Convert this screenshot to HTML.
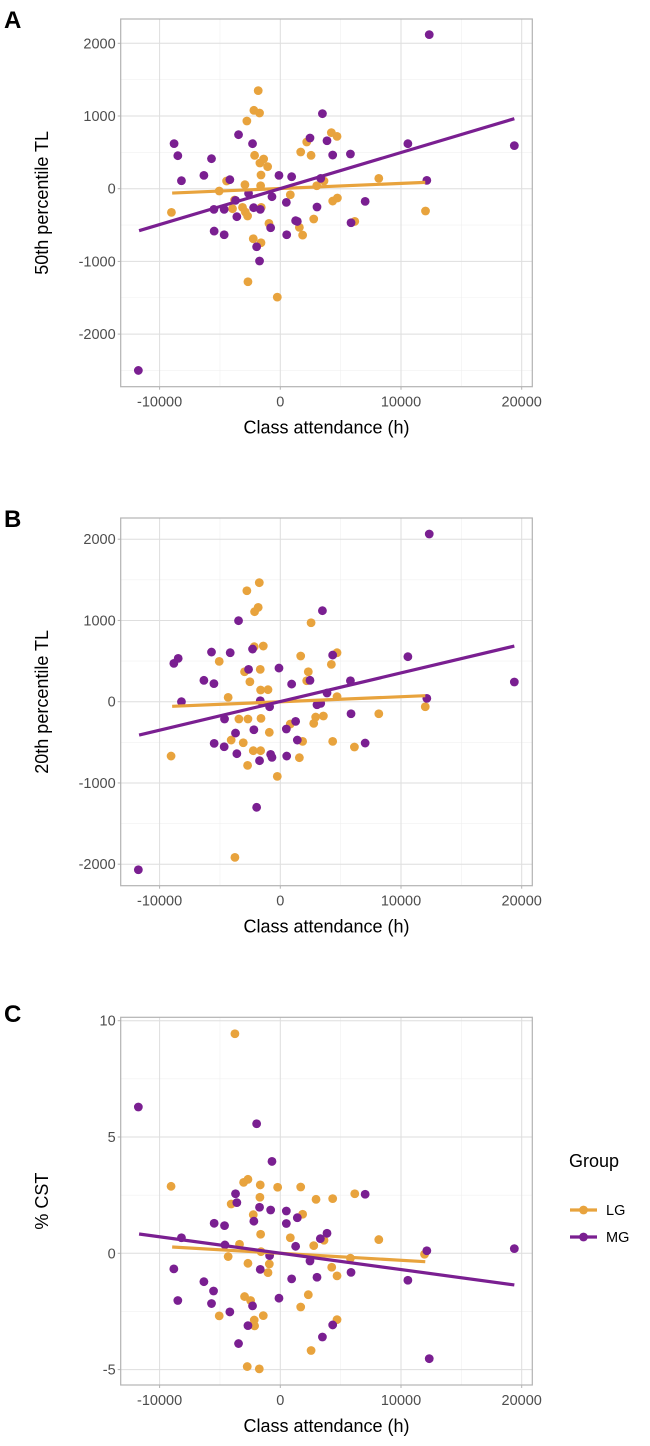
<!DOCTYPE html>
<html><head><meta charset="utf-8"><style>
body{margin:0;background:#fff;font-family:"Liberation Sans",Arial,sans-serif}
svg{display:block}
</style></head><body>
<svg id="chart" width="650" height="1446" viewBox="0 0 650 1446" xmlns="http://www.w3.org/2000/svg" font-family="Liberation Sans, Arial, sans-serif"></svg>
<script>
const xTicks=[-10000,0,10000,20000];
const aYTicks=[-2000,-1000,0,1000,2000];
const bYTicks=[-2000,-1000,0,1000,2000];
const cYTicks=[-5,0,5,10];
// Panel A (50th percentile TL)
const aMGx=[-11760,-8800,-8490,-8190,-6330,-5700,-5500,-5480,-4650,-4650,-4180,-3710,-3600,-3460,-2630,-2300,-2210,-1960,-1720,-1660,-800,-690,-110,500,530,940,1270,1410,2460,3040,3350,3490,3870,4340,5810,5860,7030,10570,12140,12340,19390];
const aMGy=[-2500,620,454,110,183,413,-284,-583,-284,-633,124,-161,-385,743,-64,619,-261,-798,-995,-284,-537,-110,183,-188,-633,165,-440,-450,697,-252,142,1032,660,463,477,-468,-174,619,115,2119,592];
const aLGx=[-9020,-5060,-4450,-3960,-3790,-3130,-2930,-2900,-2770,-2710,-2680,-2240,-2190,-2130,-1830,-1720,-1690,-1630,-1600,-1600,-1580,-1380,-1050,-940,-250,830,1580,1690,1850,2190,2550,2770,3020,3620,4230,4340,4700,4730,6170,8160,12030];
const aLGy=[-326,-32,106,-275,-156,-257,55,-321,931,-376,-1280,-688,1078,459,1349,1041,353,41,188,-743,-257,408,303,-477,-1491,-83,-532,505,-638,642,459,-417,41,106,771,-170,720,-128,-450,142,-307];
const aMGfit=[[-11700,-578],[19390,963]];
const aLGfit=[[-8960,-60],[12010,87]];
// Panel B (20th percentile TL)
const bMGx=[-11760,-8820,-8460,-8190,-6330,-5700,-5500,-5480,-4620,-4650,-4150,-3710,-3600,-3460,-2630,-2300,-2190,-1960,-1720,-1660,-800,-690,-885,-110,500,530,940,1270,1410,2460,3040,3350,3490,3870,4340,5810,5860,7030,10570,12140,12340,19390];
const bMGy=[-2068,472,533,0,263,611,222,-513,-213,-554,603,-386,-640,997,398,648,-345,-1300,-726,12,-648,-685,-62,414,-336,-669,217,-242,-472,263,-37,-21,1120,107,574,258,-148,-509,554,41,2064,242];
const bLGx=[-9050,-5060,-4320,-4070,-3760,-3430,-3070,-2960,-2770,-2710,-2680,-2520,-2240,-2160,-2130,-1830,-1740,-1660,-1630,-1630,-1600,-1410,-1020,-910,-250,830,1580,1690,1850,2190,2320,2550,2770,2930,3570,4230,4340,4700,4700,6140,8160,12010];
const bLGy=[-669,496,53,-472,-1916,-213,-505,369,1366,-784,-213,246,-603,677,1108,1161,1465,398,144,-603,-205,685,148,-377,-919,-275,-689,562,-488,258,369,972,-267,-189,-176,459,-488,603,62,-558,-148,-62];
const bMGfit=[[-11700,-410],[19390,685]];
const bLGfit=[[-8960,-57],[12010,74]];
// Panel C (% CST)
const cMGx=[-11760,-8820,-8490,-8190,-6330,-5530,-5480,-5700,-4620,-4590,-4180,-3710,-3600,-3460,-2680,-2300,-2190,-1960,-1720,-1660,-885,-800,-690,-110,500,500,940,1270,1410,2460,3040,3320,3490,3870,4340,5860,7030,10570,12140,12340,19390];
const cMGy=[6.29,-0.67,-2.03,0.67,-1.22,-1.62,1.29,-2.16,1.19,0.36,-2.52,2.56,2.18,-3.88,-3.11,-2.26,1.38,5.57,1.98,-0.69,-0.10,1.86,3.95,-1.93,1.82,1.28,-1.10,0.30,1.53,-0.33,-1.03,0.63,-3.60,0.86,-3.08,-0.82,2.54,-1.16,0.11,-4.53,0.20];
const cLGx=[-9050,-5060,-4320,-4070,-3760,-3380,-3040,-2960,-2740,-2680,-2680,-2460,-2240,-2160,-2130,-1660,-1690,-1630,-1600,-1740,-1410,-1020,-910,-220,830,1690,1690,1850,2320,2550,2770,2960,3620,4260,4340,4700,4700,5810,6170,8160,11950];
const cLGy=[2.88,-2.69,-0.14,2.12,9.44,0.39,3.05,-1.86,-4.87,3.18,-0.43,-2.03,1.66,-2.87,-3.12,2.94,2.41,0.82,0.07,-4.97,-2.68,-0.83,-0.46,2.84,0.67,2.85,-2.31,1.68,-1.78,-4.18,0.33,2.32,0.56,-0.60,2.35,-0.97,-2.85,-0.21,2.56,0.59,-0.04];
const cMGfit=[[-11700,0.83],[19390,-1.36]];
const cLGfit=[[-8960,0.27],[12010,-0.36]];

const ORANGE="#E8A33D", PURPLE="#7A1F91";
const svg=document.getElementById('chart');
const NS="http://www.w3.org/2000/svg";
function mk(tag,attrs,parent){const e=document.createElementNS(NS,tag);for(const k in attrs)e.setAttribute(k,attrs[k]);(parent||svg).appendChild(e);return e;}

function panel(cfg){
  const g=mk('g',{});
  
  
  const L=120.7,R=532.3,T=cfg.top,B=cfg.bottom;
  const x0=280.3,xs=120.7/10000;
  const sx=v=>x0+v*xs;
  const sy=v=>cfg.y0-v*cfg.ys;
  // minor grid
  for(let i=0;i<xTicks.length-1;i++){const m=(xTicks[i]+xTicks[i+1])/2;mk('line',{x1:sx(m),x2:sx(m),y1:T,y2:B,stroke:'#f0f0f0','stroke-width':0.6},g);}
  for(let i=0;i<cfg.yt.length-1;i++){const m=(cfg.yt[i]+cfg.yt[i+1])/2;mk('line',{x1:L,x2:R,y1:sy(m),y2:sy(m),stroke:'#f0f0f0','stroke-width':0.6},g);}
  // minor beyond ends
  const step=cfg.yt[1]-cfg.yt[0];
  [cfg.yt[0]-step/2,cfg.yt[cfg.yt.length-1]+step/2].forEach(m=>{const y=sy(m);if(y>T&&y<B)mk('line',{x1:L,x2:R,y1:y,y2:y,stroke:'#f0f0f0','stroke-width':0.6},g);});
  // major grid + ticks
  xTicks.forEach(v=>{
    mk('line',{x1:sx(v),x2:sx(v),y1:T,y2:B,stroke:'#dedede','stroke-width':1},g);
    mk('line',{x1:sx(v),x2:sx(v),y1:B,y2:B+3,stroke:'#b3b3b3','stroke-width':1},g);
    const t=mk('text',{x:sx(v),y:B+20,'text-anchor':'middle','font-size':14.5,fill:'#4d4d4d'},g);
    
    
    t.textContent=v;
  });
  cfg.yt.forEach(v=>{
    mk('line',{x1:L,x2:R,y1:sy(v),y2:sy(v),stroke:'#dedede','stroke-width':1},g);
    mk('line',{x1:L-3,x2:L,y1:sy(v),y2:sy(v),stroke:'#b3b3b3','stroke-width':1},g);
    const t=mk('text',{x:L-5,y:sy(v)+5,'text-anchor':'end','font-size':14.5,fill:'#4d4d4d'},g);
    
    
    t.textContent=v;
  });
  mk('rect',{x:L,y:T,width:R-L,height:B-T,fill:'none',stroke:'#b3b3b3','stroke-width':1.2},g);
  // points
  function pts(xs_,ys_,col,nm){
    for(let i=0;i<xs_.length;i++){
      const c=mk('circle',{cx:sx(xs_[i]),cy:sy(ys_[i]),r:4.4,fill:col},g);
      
      
    }
  }
  pts(cfg.lgx,cfg.lgy,ORANGE,'lg-point');
  pts(cfg.mgx,cfg.mgy,PURPLE,'mg-point');
  const l1=mk('line',{x1:sx(cfg.lgfit[0][0]),y1:sy(cfg.lgfit[0][1]),x2:sx(cfg.lgfit[1][0]),y2:sy(cfg.lgfit[1][1]),stroke:ORANGE,'stroke-width':3.2},g);
  
  
  const l2=mk('line',{x1:sx(cfg.mgfit[0][0]),y1:sy(cfg.mgfit[0][1]),x2:sx(cfg.mgfit[1][0]),y2:sy(cfg.mgfit[1][1]),stroke:PURPLE,'stroke-width':3.2},g);
  
  
  // titles
  const xt=mk('text',{x:(L+R)/2,y:B+47,'text-anchor':'middle','font-size':18,fill:'#000'},g);
  
  
  xt.textContent='Class attendance (h)';
  const cy=(T+B)/2;
  const yt=mk('text',{x:48,y:cy,'text-anchor':'middle','font-size':18,fill:'#000',transform:`rotate(-90 48 ${cy})`},g);
  
  
  yt.textContent=cfg.ytitle;
  const lab=mk('text',{x:4,y:cfg.labY,'font-size':24,'font-weight':'bold',fill:'#000'},g);
  
  
  lab.textContent=cfg.label;
}
panel({name:'panel-a',label:'A',labY:28,top:19,bottom:386.7,y0:188.7,ys:72.7/1000,yt:aYTicks,ytitle:'50th percentile TL',mgx:aMGx,mgy:aMGy,lgx:aLGx,lgy:aLGy,mgfit:aMGfit,lgfit:aLGfit});
panel({name:'panel-b',label:'B',labY:527,top:518,bottom:885.7,y0:701.7,ys:81.25/1000,yt:bYTicks,ytitle:'20th percentile TL',mgx:bMGx,mgy:bMGy,lgx:bLGx,lgy:bLGy,mgfit:bMGfit,lgfit:bLGfit});
panel({name:'panel-c',label:'C',labY:1022,top:1017.3,bottom:1385,y0:1253.3,ys:116.3/5,yt:cYTicks,ytitle:'% CST',mgx:cMGx,mgy:cMGy,lgx:cLGx,lgy:cLGy,mgfit:cMGfit,lgfit:cLGfit});

// legend
const lg=mk('g',{});


const lt=mk('text',{x:569,y:1167,'font-size':18,fill:'#000'},lg);


lt.textContent='Group';
[['LG',ORANGE,1210],['MG',PURPLE,1237]].forEach(([n,c,y])=>{
  const e=mk('g',{},lg);
  
  
  mk('line',{x1:570,x2:597,y1:y,y2:y,stroke:c,'stroke-width':3.2},e);
  mk('circle',{cx:583.5,cy:y,r:4.4,fill:c},e);
  const t=mk('text',{x:606,y:y+5,'font-size':14.5,fill:'#000'},e);
  t.textContent=n;
});
</script>
</body></html>
